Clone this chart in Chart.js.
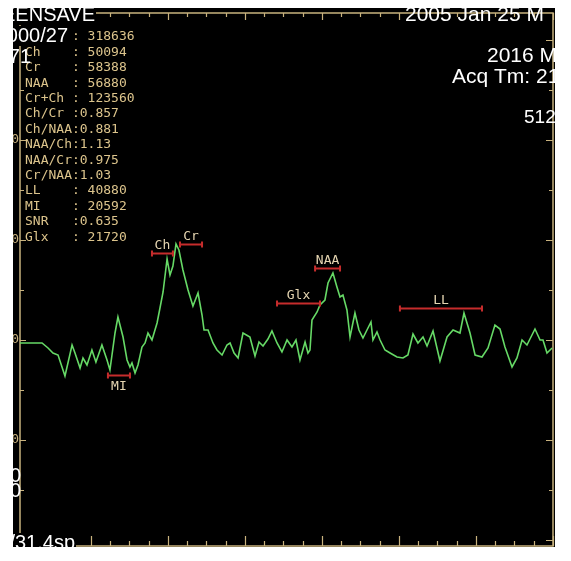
<!DOCTYPE html>
<html>
<head>
<meta charset="utf-8">
<script src="https://cdn.jsdelivr.net/npm/chart.js@4/dist/chart.umd.min.js"></script>
<style>
html, body { margin: 0; padding: 0; background: #fff; }
#wrap { position: absolute; left: 13px; top: 8px; width: 542px; height: 539px; }
canvas { display: block; }
</style>
</head>
<body>
<div id="wrap"><canvas id="mrsChart" width="542" height="539"></canvas></div>
<script>
// スペクトル (ppm / 強度)
var shiftPpm = [3.961,3.818,3.779,3.747,3.714,3.669,3.623,3.604,3.571,3.552,
	3.526,3.494,3.468,3.429,3.396,3.377,3.344,3.325,3.292,3.266,
	3.247,3.234,3.214,3.195,3.169,3.149,3.130,3.104,3.071,3.052,
	3.032,3.006,2.987,2.968,2.948,2.929,2.903,2.870,2.838,2.805,
	2.779,2.766,2.740,2.708,2.682,2.649,2.617,2.597,2.571,2.545,
	2.513,2.468,2.435,2.409,2.383,2.351,2.325,2.292,2.260,2.227,
	2.195,2.169,2.143,2.110,2.091,2.078,2.065,2.032,2.013,1.981,
	1.961,1.929,1.903,1.883,1.864,1.838,1.818,1.786,1.760,1.734,
	1.708,1.682,1.669,1.643,1.623,1.591,1.558,1.513,1.474,1.442,
	1.409,1.377,1.344,1.318,1.279,1.234,1.188,1.149,1.104,1.078,
	1.039,1.006,0.961,0.922,0.877,0.844,0.812,0.766,0.734,0.701,
	0.669,0.617,0.584,0.565,0.539,0.506];
var intensity = [-3,-3,-8,-13,-15,-36,-5,-13,-28,-18,
	-25,-10,-22,-5,-20,-30,7,23,3,-20,
	-27,-23,-33,-25,-7,-3,7,0,17,32,
	48,81,65,74,96,90,70,50,34,47,
	25,10,10,-3,-10,-15,-5,-3,-13,-18,
	7,3,-16,-2,-6,1,9,-3,-12,0,
	-7,0,-20,-2,-13,-10,20,28,35,40,
	57,67,53,43,45,30,3,27,10,2,
	10,18,0,8,0,-10,-13,-17,-18,-15,
	6,-3,3,-6,9,-21,3,10,7,27,
	7,-15,-17,-8,15,11,-7,-27,-18,0,
	-5,11,0,0,-13,-8];

// ピーク範囲
var peakNames = ['MI', 'Ch', 'Cr', 'Glx', 'NAA', 'LL'];
var peakFrom = [3.390, 3.104, 2.922, 2.292, 2.045, 1.494];
var peakTo = [3.247, 2.968, 2.779, 2.013, 1.883, 0.961];
var peakLevel = [-35, 87, 96, 37, 72, 32];

// 結果表
var resultNames = ['', 'Ch', 'Cr', 'NAA', 'Cr+Ch', 'Ch/Cr', 'Ch/NAA', 'NAA/Ch', 'NAA/Cr', 'Cr/NAA', 'LL', 'MI', 'SNR', 'Glx'];
var resultValues = [318636, 50094, 58388, 56880, 123560, 0.857, 0.881, 1.13, 0.975, 1.03, 40880, 20592, 0.635, 21720];

// 目盛り
var xMin = 0.5, xMax = 3.961, xStep = 0.125;
var yMin = -206, yMax = 327, yStep = 50;
var yTickLabels = [300, 200, 100, 0, -100, -200];

(function() {
	var frameColor = '#c8b27e';
	var textColor = '#dcc48c';
	var labelBelow = { MI: true };

	var points = shiftPpm.map(function(v, i) {
		return { x: v, y: intensity[i] };
	});

	function whiteText(c, str, x, y, size, align, bg) {
		c.font = size + 'px "Liberation Sans", Arial, sans-serif';
		c.textAlign = align;
		c.textBaseline = 'alphabetic';
		if (bg) {
			var w = c.measureText(str).width;
			var left = align === 'right' ? x - w : x;
			c.fillStyle = '#000';
			c.fillRect(left - 1, y - size * 0.8, w + 2, size);
		}
		c.fillStyle = '#fff';
		c.fillText(str, x, y);
	}

	// 枠と目盛り
	var framePlugin = {
		id: 'frame',
		beforeDraw: function(chart) {
			var c = chart.ctx;
			c.save();
			c.fillStyle = '#000';
			c.fillRect(0, 0, chart.width, chart.height);
			c.restore();
		},
		beforeDatasetsDraw: function(chart) {
			var c = chart.ctx, a = chart.chartArea;
			var xs = chart.scales.x, ys = chart.scales.y;
			c.save();
			c.strokeStyle = frameColor;
			c.lineWidth = 1.5;
			c.strokeRect(a.left, a.top, a.right - a.left, a.bottom - a.top);
			c.lineWidth = 1.2;
			c.beginPath();
			for (var v = xMin; v <= xMax + 1e-6; v += xStep) {
				var px = Math.round(xs.getPixelForValue(v)) + 0.5;
				var major = Math.abs(v * 2 - Math.round(v * 2)) < 1e-6;
				c.moveTo(px, a.bottom);
				c.lineTo(px, a.bottom - (major ? 10 : 5));
				c.moveTo(px, a.top);
				c.lineTo(px, a.top + (major ? 7 : 4));
			}
			for (var t = -200; t <= 300; t += yStep) {
				var py = Math.round(ys.getPixelForValue(t)) + 0.5;
				var big = t % 100 === 0;
				c.moveTo(a.left, py);
				c.lineTo(a.left + (big ? 6 : 4), py);
				c.moveTo(a.right, py);
				c.lineTo(a.right - (big ? 7 : 4), py);
			}
			c.stroke();

			// 縦軸ラベル（左端で切れる）
			c.fillStyle = frameColor;
			c.font = '13px "DejaVu Sans Mono", monospace';
			c.textAlign = 'right';
			c.textBaseline = 'middle';
			yTickLabels.forEach(function(t) {
				c.fillText(String(t), a.left - 1, ys.getPixelForValue(t));
			});
			c.restore();
		},
		afterDatasetsDraw: function(chart) {
			var c = chart.ctx;
			var xs = chart.scales.x, ys = chart.scales.y;
			c.save();

			// ピーク範囲
			c.font = '13px "DejaVu Sans Mono", monospace';
			c.textAlign = 'center';
			c.textBaseline = 'middle';
			peakNames.forEach(function(name, i) {
				var x1 = xs.getPixelForValue(peakFrom[i]);
				var x2 = xs.getPixelForValue(peakTo[i]);
				var py = Math.round(ys.getPixelForValue(peakLevel[i])) + 0.5;
				c.strokeStyle = '#c62c2c';
				c.lineWidth = 2;
				c.beginPath();
				c.moveTo(x1, py); c.lineTo(x2, py);
				c.moveTo(x1, py - 3); c.lineTo(x1, py + 3);
				c.moveTo(x2, py - 3); c.lineTo(x2, py + 3);
				c.stroke();
				c.fillStyle = '#e6d6b2';
				c.fillText(name, (x1 + x2) / 2, labelBelow[name] ? py + 11 : py - 8);
			});

			// 結果表
			c.textAlign = 'left';
			c.textBaseline = 'middle';
			c.fillStyle = textColor;
			resultNames.forEach(function(name, i) {
				var v = resultValues[i];
				var s = (name + '      ').slice(0, 6) + ':' + (v >= 100 ? ' ' + v : String(v));
				c.fillText(s, 12, 29 + i * 15.4);
			});

			// 画面の文字
			whiteText(c, 'SCREENSAVE', 82, 13, 20, 'right', true);
			whiteText(c, '2000/27', 55, 34, 20, 'right', true);
			whiteText(c, '171', 18, 55, 20, 'right', false);
			whiteText(c, '2005 Jan 25 M', 392, 13, 21, 'left', false);
			whiteText(c, '2016 M', 474, 54, 21, 'left', false);
			whiteText(c, 'Acq Tm: 21', 439, 75, 21, 'left', false);
			whiteText(c, '512', 511, 115, 19, 'left', false);
			whiteText(c, '0', 8, 474, 20, 'right', false);
			whiteText(c, '0', 8, 489, 20, 'right', false);
			whiteText(c, '1/31.4sp', 62, 541, 20, 'right', true);
			c.restore();
		}
	};

	var ctx = document.getElementById('mrsChart').getContext('2d');
	new Chart(ctx, {
		type: 'line',
		data: {
			datasets: [{
				data: points,
				borderColor: '#66d966',
				borderWidth: 1.6,
				pointRadius: 0,
				tension: 0,
				fill: false
			}]
		},
		options: {
			responsive: false,
			animation: false,
			layout: { padding: { left: 7, right: 2, top: 5, bottom: 1 } },
			plugins: { legend: { display: false }, tooltip: { enabled: false } },
			scales: {
				x: { type: 'linear', reverse: true, min: xMin, max: xMax, display: false },
				y: { type: 'linear', min: yMin, max: yMax, display: false }
			}
		},
		plugins: [framePlugin]
	});
})();
</script>
</body>
</html>
